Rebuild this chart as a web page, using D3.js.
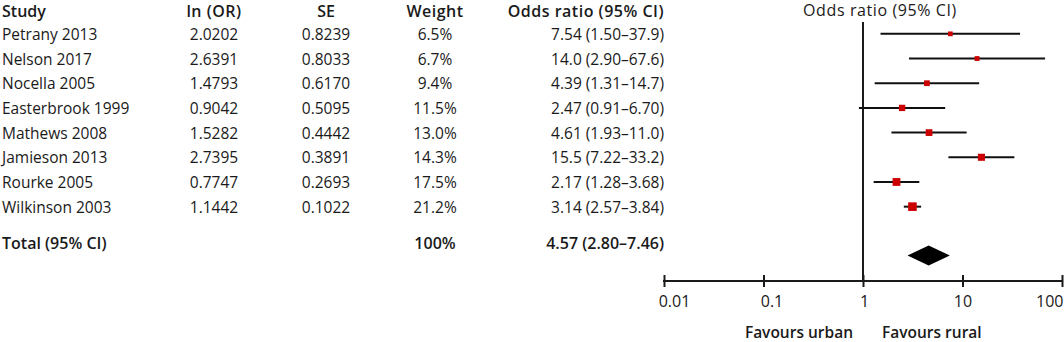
<!DOCTYPE html>
<html>
<head>
<meta charset="utf-8">
<script src="https://cdn.jsdelivr.net/npm/d3@7"></script>
<style>
  html, body { margin: 0; padding: 0; background: #fff; }
  svg { display: block; }
  text { font-family: "Open Sans", sans-serif; fill: #1a1a1a; }
</style>
</head>
<body>
<svg id="chart" width="1064" height="342"></svg>
<script>
const studies = ["Petrany 2013", "Nelson 2017", "Nocella 2005", "Easterbrook 1999", "Mathews 2008", "Jamieson 2013", "Rourke 2005", "Wilkinson 2003"];
const lnOR = ["2.0202", "2.6391", "1.4793", "0.9042", "1.5282", "2.7395", "0.7747", "1.1442"];
const seVals = ["0.8239", "0.8033", "0.6170", "0.5095", "0.4442", "0.3891", "0.2693", "0.1022"];
const weights = [6.5, 6.7, 9.4, 11.5, 13.0, 14.3, 17.5, 21.2];
const orVals = [7.54, 14.0, 4.39, 2.47, 4.61, 15.5, 2.17, 3.14];
const orLow = [1.50, 2.90, 1.31, 0.91, 1.93, 7.22, 1.28, 2.57];
const orHigh = [37.9, 67.6, 14.7, 6.70, 11.0, 33.2, 3.68, 3.84];
const orText = ["7.54 (1.50\u201337.9)", "14.0 (2.90\u201367.6)", "4.39 (1.31\u201314.7)", "2.47 (0.91\u20136.70)", "4.61 (1.93\u201311.0)", "15.5 (7.22\u201333.2)", "2.17 (1.28\u20133.68)", "3.14 (2.57\u20133.84)"];
const total = { label: "Total (95% CI)", weight: "100%", or: 4.57, low: 2.80, high: 7.46, text: "4.57 (2.80\u20137.46)" };
const headers = ["Study", "ln (OR)", "SE", "Weight", "Odds ratio (95% CI)"];
const tickVals = [0.01, 0.1, 1, 10, 100];
const tickLabels = ["0.01", "0.1", "1", "10", "100"];
const favours = ["Favours urban", "Favours rural"];

const svg = d3.select("#chart");
const x = d3.scaleLog().domain([0.01, 100]).range([664, 1062]);
const yText = d3.scaleBand().domain(d3.range(studies.length)).range([22, 219.5]);
const yPlot = d3.scaleBand().domain(d3.range(studies.length)).range([21.5, 219]);
const sq = d3.scaleSqrt().domain([0, 21.2]).range([0, 8.6]);

const fs = 15.5;
const cols = [
  { x: 2, anchor: "start" },
  { x: 214, anchor: "middle" },
  { x: 326, anchor: "middle" },
  { x: 435, anchor: "middle" },
  { x: 664, anchor: "end" }
];

// headers
headers.forEach((h, i) => {
  svg.append("text").attr("x", cols[i].x).attr("y", 17)
    .attr("text-anchor", cols[i].anchor).attr("font-size", 16).attr("font-weight", 600)
    .attr("letter-spacing", i >= 1 && i !== 2 ? 0.5 : 0).text(h);
});
svg.append("text").attr("x", 880).attr("y", 16)
  .attr("text-anchor", "middle").attr("font-size", 16).attr("font-weight", 500)
  .attr("letter-spacing", 0.6).text(headers[4]);

// rows
const rowCols = [studies, lnOR, seVals, weights.map(w => w.toFixed(1) + "%"), orText];
studies.forEach((s, r) => {
  const yc = yText(r) + yText.bandwidth() / 2;
  rowCols.forEach((col, i) => {
    svg.append("text").attr("x", cols[i].x).attr("y", yc + 5.5)
      .attr("text-anchor", cols[i].anchor).attr("font-size", fs).text(col[r]);
  });
});

// total row
const yTot = 243;
svg.append("text").attr("x", cols[0].x).attr("y", yTot + 5.5).attr("font-size", 16).attr("font-weight", 600).text(total.label);
svg.append("text").attr("x", cols[3].x).attr("y", yTot + 5.5).attr("text-anchor", "middle").attr("font-size", 16).attr("font-weight", 600).text(total.weight);
svg.append("text").attr("x", cols[4].x).attr("y", yTot + 5.5).attr("text-anchor", "end").attr("font-size", 16).attr("font-weight", 600).text(total.text);

// vertical line of no effect
const axisY = 281;
svg.append("line").attr("x1", x(1)).attr("x2", x(1)).attr("y1", 22).attr("y2", axisY)
  .attr("stroke", "#1a1a1a").attr("stroke-width", 2);

// CI lines and squares
const g = svg.append("g");
studies.forEach((s, r) => {
  const yc = yPlot(r) + yPlot.bandwidth() / 2;
  g.append("line").attr("x1", x(orLow[r])).attr("x2", x(orHigh[r])).attr("y1", yc).attr("y2", yc)
    .attr("stroke", "#111").attr("stroke-width", 2);
  const side = sq(weights[r]);
  g.append("rect").attr("x", x(orVals[r]) - side / 2).attr("y", yc - side / 2)
    .attr("width", side).attr("height", side).attr("fill", "#cc0000");
});

// diamond
const yDia = 255.5, hDia = 10;
svg.append("path")
  .attr("d", `M${x(total.low)},${yDia} L${x(total.or)},${yDia - hDia} L${x(total.high)},${yDia} L${x(total.or)},${yDia + hDia} Z`)
  .attr("fill", "#000");

// axis
const labelShift = [10, 8, 1, 0, 0];
const axis = d3.axisBottom(x).tickValues(tickVals).tickFormat((d, i) => tickLabels[i]).tickSize(12).tickPadding(8.5).tickSizeOuter(0);
const ag = svg.append("g").attr("transform", `translate(0,${axisY - 6})`).call(axis);
ag.select(".domain").remove();
ag.selectAll(".tick line").attr("stroke", "#1a1a1a").attr("stroke-width", 2);
ag.selectAll(".tick text")
  .attr("font-size", 16).attr("font-family", "Open Sans, sans-serif").attr("fill", "#1a1a1a")
  .attr("x", (d, i) => i === tickVals.length - 1 ? 1 : labelShift[i])
  .attr("text-anchor", (d, i) => i === tickVals.length - 1 ? "end" : "middle");
svg.append("line").attr("x1", x(0.01) - 1).attr("x2", x(100) + 1).attr("y1", axisY).attr("y2", axisY)
  .attr("stroke", "#1a1a1a").attr("stroke-width", 2);

// favours labels
svg.append("text").attr("x", x(1) - 10).attr("y", 338).attr("text-anchor", "end").attr("font-size", fs).attr("font-weight", 600).text(favours[0]);
svg.append("text").attr("x", x(1) + 19).attr("y", 338).attr("text-anchor", "start").attr("font-size", fs).attr("font-weight", 600).text(favours[1]);
</script>
</body>
</html>
